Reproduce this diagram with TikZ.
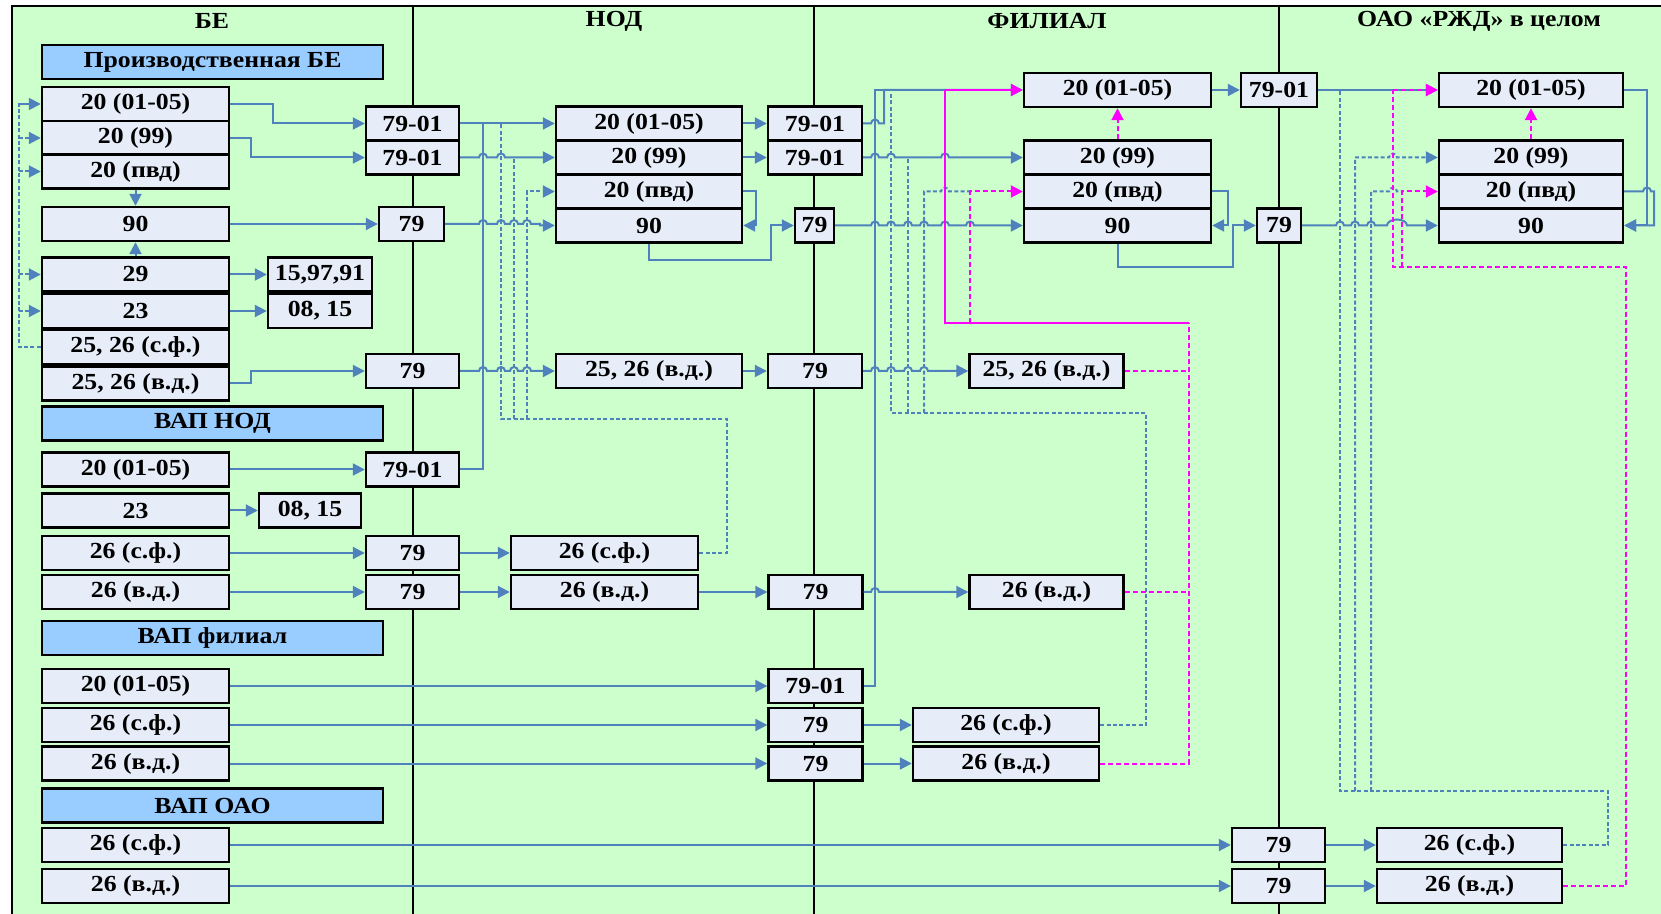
\documentclass[tikz,border=0pt]{standalone}
\usepackage{fontspec}
\setmainfont{Liberation Serif}[FakeStretch=1.12]
\usetikzlibrary{arrows.meta}
\definecolor{bgreen}{RGB}{204,255,204}
\definecolor{boxfill}{RGB}{230,236,248}
\definecolor{hdrfill}{RGB}{153,204,255}
\definecolor{lineblue}{RGB}{79,129,189}
\definecolor{vdmag}{RGB}{255,0,255}
% перескок линии через вертикаль
\newcommand\hp{arc[start angle=180, end angle=360, radius=4]}
\begin{document}
\begin{tikzpicture}[x=0.5pt, y=-0.5pt,
  box/.style={draw=black, line width=1.2pt, fill=boxfill, minimum height=17pt, inner sep=0pt, font=\bfseries\fontsize{11.5}{13}\selectfont},
  hdr/.style={box, fill=hdrfill, minimum width=170.5pt},
  col/.style={font=\bfseries\fontsize{11.5}{13}\selectfont},
  flow/.style={draw=lineblue, line width=1pt},
  arr/.style={flow, -{Triangle[length=6pt, width=6pt]}},
  sf/.style={flow, dash pattern=on 2pt off 1.2pt},
  sfarr/.style={sf, -{Triangle[length=6pt, width=6pt]}},
  vd/.style={draw=vdmag, line width=1pt, dash pattern=on 2.5pt off 1.5pt},
  vdarr/.style={vd, -{Triangle[length=6pt, width=6pt]}},
  vdsolid/.style={draw=vdmag, line width=1.2pt}]

  \useasboundingbox (0,0) rectangle (1661,914);
  \fill[white] (0,0) rectangle (1661,914);
  \draw[fill=bgreen, line width=1.1pt] (12,6) rectangle (1680,930);
  \draw[line width=1.1pt] (413,6) -- (413,930);
  \draw[line width=1.1pt] (814,6) -- (814,930);
  \draw[line width=1.1pt] (1279,6) -- (1279,930);

  % ================= заголовки столбцов =================
  \node[col] (tBE) at (212,21) {БЕ};
  \node[col] (tNOD) at (614,21) {НОД};
  \node[col] (tFIL) at (1047,21) {ФИЛИАЛ};
  \node[col] (tOAO) at (1479,21) {ОАО «РЖД» в целом};

  % ================= БЕ =================
  \node[hdr] (hPr) at (212.5,62) {Производственная БЕ};
  \node[box, minimum width=93.5pt] (be20a) at (135.5,104) {20 (01-05)};
  \node[box, minimum width=93.5pt] (be20b) at (135.5,138) {20 (99)};
  \node[box, minimum width=93.5pt] (be20c) at (135.5,171.5) {20 (пвд)};
  \node[box, minimum width=93.5pt] (be90) at (135.5,224) {90};
  \node[box, minimum width=93.5pt] (be29) at (135.5,274.5) {29};
  \node[box, minimum width=93.5pt] (be23) at (135.5,311) {23};
  \node[box, minimum width=93.5pt] (be2526s) at (135.5,347) {25, 26 (с.ф.)};
  \node[box, minimum width=93.5pt] (be2526v) at (135.5,383.5) {25, 26 (в.д.)};
  \node[box, minimum width=52pt] (be15) at (320,274.5) {15,97,91};
  \node[box, minimum width=52pt] (be08) at (320,311) {08, 15};

  \node[hdr] (hNOD) at (212.5,423.5) {ВАП НОД};
  \node[box, minimum width=93.5pt] (bn20) at (135.5,469.5) {20 (01-05)};
  \node[box, minimum width=93.5pt] (bn23) at (135.5,510.5) {23};
  \node[box, minimum width=51pt] (bn08) at (310,510.5) {08, 15};
  \node[box, minimum width=93.5pt] (bn26s) at (135.5,553) {26 (с.ф.)};
  \node[box, minimum width=93.5pt] (bn26v) at (135.5,592) {26 (в.д.)};

  \node[hdr] (hFIL) at (212.5,638) {ВАП филиал};
  \node[box, minimum width=93.5pt] (bf20) at (135.5,686) {20 (01-05)};
  \node[box, minimum width=93.5pt] (bf26s) at (135.5,725) {26 (с.ф.)};
  \node[box, minimum width=93.5pt] (bf26v) at (135.5,763.5) {26 (в.д.)};

  \node[hdr] (hOAO) at (212.5,805.5) {ВАП ОАО};
  \node[box, minimum width=93.5pt] (bo26s) at (135.5,845) {26 (с.ф.)};
  \node[box, minimum width=93.5pt] (bo26v) at (135.5,886) {26 (в.д.)};

  % ================= НОД =================
  \node[box, minimum width=46.5pt] (n7901a) at (412.5,123.5) {79-01};
  \node[box, minimum width=46.5pt] (n7901b) at (412.5,157.5) {79-01};
  \node[box, minimum width=32.5pt] (n79c) at (411.5,224) {79};
  \node[box, minimum width=46.5pt] (n79d) at (412.5,371) {79};
  \node[box, minimum width=46.5pt] (n7901e) at (412.5,469.5) {79-01};
  \node[box, minimum width=46.5pt] (n79f) at (412.5,553) {79};
  \node[box, minimum width=46.5pt] (n79g) at (412.5,592) {79};

  \node[box, minimum width=93pt] (nd20a) at (649,123.5) {20 (01-05)};
  \node[box, minimum width=93pt] (nd20b) at (649,157.5) {20 (99)};
  \node[box, minimum width=93pt] (nd20c) at (649,191.5) {20 (пвд)};
  \node[box, minimum width=93pt] (nd90) at (649,225.5) {90};
  \node[box, minimum width=93pt] (nd2526) at (649,371) {25, 26 (в.д.)};
  \node[box, minimum width=93.5pt] (nd26s) at (604.5,553) {26 (с.ф.)};
  \node[box, minimum width=93.5pt] (nd26v) at (604.5,592) {26 (в.д.)};

  % ================= ФИЛИАЛ =================
  \node[box, minimum width=47pt] (m7901a) at (815,123.5) {79-01};
  \node[box, minimum width=47pt] (m7901b) at (815,157.5) {79-01};
  \node[box, minimum width=19.5pt] (m79c) at (814.5,225.5) {79};
  \node[box, minimum width=47pt] (m79d) at (815,371) {79};
  \node[box, minimum width=47pt] (m79g) at (815.5,592) {79};
  \node[box, minimum width=47pt] (m7901h) at (815.5,686) {79-01};
  \node[box, minimum width=47pt] (m79i) at (815.5,725) {79};
  \node[box, minimum width=47pt] (m79j) at (815.5,763.5) {79};

  \node[box, minimum width=93.5pt] (f20a) at (1117.5,90) {20 (01-05)};
  \node[box, minimum width=93.5pt] (f20b) at (1117.5,157.5) {20 (99)};
  \node[box, minimum width=93.5pt] (f20c) at (1117.5,191.5) {20 (пвд)};
  \node[box, minimum width=93.5pt] (f90) at (1117.5,225.5) {90};
  \node[box, minimum width=77pt] (f2526) at (1046.5,371) {25, 26 (в.д.)};
  \node[box, minimum width=77pt] (f26v) at (1046.5,592) {26 (в.д.)};
  \node[box, minimum width=93pt] (f26s2) at (1006,725) {26 (с.ф.)};
  \node[box, minimum width=93pt] (f26v2) at (1006,763.5) {26 (в.д.)};

  % ================= ОАО =================
  \node[box, minimum width=38pt] (r7901) at (1279,90) {79-01};
  \node[box, minimum width=22pt] (r79) at (1279,225.5) {79};
  \node[box, minimum width=46.5pt] (r79s) at (1278.5,845) {79};
  \node[box, minimum width=46.5pt] (r79v) at (1278.5,886) {79};

  \node[box, minimum width=92pt] (o20a) at (1531,90) {20 (01-05)};
  \node[box, minimum width=92pt] (o20b) at (1531,157.5) {20 (99)};
  \node[box, minimum width=92pt] (o20c) at (1531,191.5) {20 (пвд)};
  \node[box, minimum width=92pt] (o90) at (1531,225.5) {90};
  \node[box, minimum width=92.5pt] (o26s) at (1469.5,845) {26 (с.ф.)};
  \node[box, minimum width=92.5pt] (o26v) at (1469.5,886) {26 (в.д.)};

  % ================= связи БЕ =================
  \draw[sf] (be2526s.west) -- ++(-22,0) coordinate (lp) |- (be20a.west);
  \draw[sfarr] (lp |- be20a.west) -- (be20a.west);
  \draw[sfarr] (lp |- be20b.west) -- (be20b.west);
  \draw[sfarr] (lp |- be20c.west) -- (be20c.west);
  \draw[sfarr] (lp |- be29.west) -- (be29.west);
  \draw[sfarr] (lp |- be23.west) -- (be23.west);
  \draw[arr] (be20a.east) -- ++(43,0) |- (n7901a.west);
  \draw[arr] (be20b.east) -- ++(21,0) |- (n7901b.west);
  \draw[arr] (be20c.south) -- (be90.north);
  \draw[arr] (be29.north) -- (be90.south);
  \draw[arr] (be90.east) -- (n79c.west);
  \draw[arr] (be29.east) -- (be15.west);
  \draw[arr] (be23.east) -- (be08.west);
  \draw[arr] (be2526v.east) -- ++(21,0) |- (n79d.west);
  \draw[arr] (bn20.east) -- (n7901e.west);
  \draw[arr] (bn23.east) -- (bn08.west);
  \draw[arr] (bn26s.east) -- (n79f.west);
  \draw[arr] (bn26v.east) -- (n79g.west);
  \draw[arr] (bf20.east) -- (m7901h.west);
  \draw[arr] (bf26s.east) -- (m79i.west);
  \draw[arr] (bf26v.east) -- (m79j.west);
  \draw[arr] (bo26s.east) -- (r79s.west);
  \draw[arr] (bo26v.east) -- (r79v.west);

  % ================= связи НОД =================
  \draw[flow] (n7901e.east) -| (483,123.5);
  \draw[arr] (n7901a.east) -- (nd20a.west);
  \draw[arr] (n7901b.east) -- (479,157.5) \hp -- (497,157.5) \hp -- (nd20b.west);
  \draw[arr] (n79c.east) -- (479,224) \hp -- (497,224) \hp -- (510,224) \hp -- (523,224) \hp -- (540,224) |- (nd90.west);
  \draw[arr] (n79d.east) -- (479,371) \hp -- (497,371) \hp -- (510,371) \hp -- (523,371) \hp -- (nd2526.west);
  \draw[sf] (nd26s.east) -- (727,553) -- (727,419) -- (501,419) -- (501,123.5);
  \draw[sf] (514,419) -- (514,157.5);
  \draw[sfarr] (527,419) -- (527,191.5) -- (nd20c.west);
  \draw[arr] (n79f.east) -- (nd26s.west);
  \draw[arr] (n79g.east) -- (nd26v.west);
  \draw[arr] (nd20a.east) -- (m7901a.west);
  \draw[arr] (nd20b.east) -- (m7901b.west);
  \draw[arr] (nd20c.east) -- ++(13,0) |- (nd90.east);
  \draw[arr] (nd90.south) |- (771,260) |- (m79c.west);
  \draw[arr] (nd2526.east) -- (m79d.west);
  \draw[arr] (nd26v.east) -- (m79g.west);

  % ================= связи ФИЛИАЛ =================
  \draw[flow] (m7901h.east) -| (875,90) -- (884,90);
  \draw[arr] (m7901a.east) -- (871,123.5) \hp -- (884,123.5) |- (f20a.west);
  \draw[arr] (m7901b.east) -- (871,157.5) \hp -- (887,157.5) \hp -- (941,157.5) \hp -- (f20b.west);
  \draw[arr] (m79c.east) -- (871,225.5) \hp -- (887,225.5) \hp -- (904,225.5) \hp -- (920,225.5) \hp -- (941,225.5) \hp -- (966,225.5) \hp -- (f90.west);
  \draw[arr] (m79d.east) -- (871,371) \hp -- (887,371) \hp -- (904,371) \hp -- (920,371) \hp -- (f2526.west);
  \draw[arr] (m79g.east) -- (871,592) \hp -- (f26v.west);
  \draw[arr] (m79i.east) -- (f26s2.west);
  \draw[arr] (m79j.east) -- (f26v2.west);
  \draw[sf] (f26s2.east) -- (1146,725) -- (1146,413) -- (891,413) -- (891,90);
  \draw[sf] (908,413) -- (908,157.5);
  \draw[sf] (924,413) -- (924,191.5) -- (941,191.5) \hp -- (970,191.5);
  \draw[vd] (f26v2.east) -- (1189,763.5) -- (1189,323);
  \draw[vd] (f2526.east) -- (1189,371);
  \draw[vd] (f26v.east) -- (1189,592);
  \draw[vdsolid] (1189,323) -- (945,323) -- (945,90);
  \draw[vdsolid, -{Triangle[length=6pt, width=6pt]}] (945,90) -- (f20a.west);
  \draw[vdarr] (970,323) -- (970,191.5) -- (f20c.west);
  \draw[vdarr] (f20b.north) -- (f20a.south);
  \draw[arr] (f20a.east) -- (r7901.west);
  \draw[arr] (f20c.east) -- ++(16,0) |- (f90.east);
  \draw[arr] (f90.south) |- (1233,267) |- (r79.west);

  % ================= связи ОАО =================
  \draw[arr] (r7901.east) -- (o20a.west);
  \draw[arr] (r79.east) -- (1336,225.5) \hp -- (1351,225.5) \hp -- (1367,225.5) \hp -- (1387,225.5) arc[start angle=180, end angle=360, x radius=10, y radius=6] -- (o90.west);
  \draw[arr] (o20a.east) -- (1647,90) |- (o90.east);
  \draw[arr] (o20c.east) -- (1643,191.5) \hp -- (1654,191.5) |- (o90.east);
  \draw[arr] (r79s.east) -- (o26s.west);
  \draw[arr] (r79v.east) -- (o26v.west);
  \draw[sf] (o26s.east) -- (1608,845) -- (1608,791) -- (1340,791) -- (1340,90);
  \draw[sfarr] (1355,791) -- (1355,157.5) -- (1389,157.5) \hp -- (o20b.west);
  \draw[sf] (1371,791) -- (1371,191.5) -- (1389,191.5) \hp -- (1402,191.5);
  \draw[vd] (o26v.east) -- (1626,886) -- (1626,267) -- (1393,267) -- (1393,90);
  \draw[vdarr] (1393,90) -- (o20a.west);
  \draw[vdarr] (1402,267) -- (1402,191.5) -- (o20c.west);
  \draw[vdarr] (o20b.north) -- (o20a.south);

\end{tikzpicture}
\end{document}
